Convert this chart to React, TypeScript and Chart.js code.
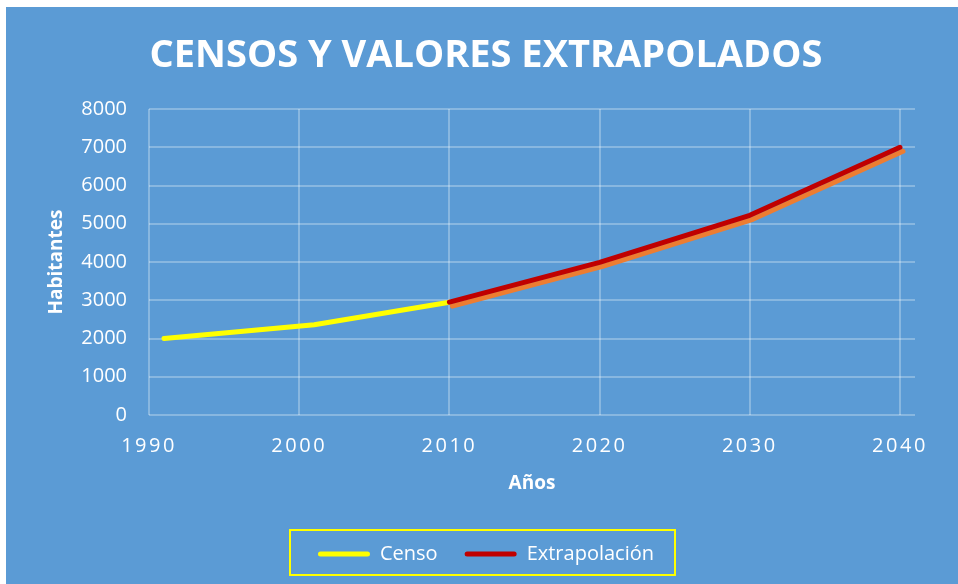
import React, { useEffect, useRef } from 'react';
import { Chart, registerables } from 'chart.js';

Chart.register(...registerables);

const chartTitle = 'CENSOS Y VALORES EXTRAPOLADOS';
const xAxisTitle = 'Años';
const yAxisTitle = 'Habitantes';

const censoLabel = 'Censo';
const censoYears = [1991, 2001, 2010];
const censoValues = [2000, 2360, 2950];

const extrapLabel = 'Extrapolación';
const extrapYears = [2010, 2020, 2030, 2040];
const extrapValues = [2950, 3990, 5220, 7000];

const xMin = 1990;
const xMax = 2041;
const xStep = 10;
const yMin = 0;
const yMax = 8000;
const yStep = 1000;

const BG = '#5B9BD5';
const YELLOW = '#FFFF00';
const RED = '#C00000';
const ORANGE = '#ED7D31';
const GRID = 'rgba(255,255,255,0.28)';
const FONT = '"Open Sans", "DejaVu Sans", sans-serif';

const toPoints = (xs: number[], ys: number[]) => xs.map((x, i) => ({ x, y: ys[i] }));

const shadowPlugin = {
  id: 'lineShadow',
  beforeDatasetDraw(chart: any, args: any) {
    if (args.index === 1) {
      const ctx = chart.ctx;
      ctx.save();
      ctx.shadowColor = ORANGE;
      ctx.shadowOffsetX = 3;
      ctx.shadowOffsetY = 4;
      ctx.shadowBlur = 0;
    }
  },
  afterDatasetDraw(chart: any, args: any) {
    if (args.index === 1) chart.ctx.restore();
  },
};

const spacingPlugin = {
  id: 'tickSpacing',
  beforeDraw(chart: any) {
    const s = chart.scales.x;
    if (s && !s.__patched) {
      const orig = s.drawLabels.bind(s);
      s.drawLabels = (area: any) => {
        const ctx = chart.ctx;
        ctx.save();
        ctx.letterSpacing = '2.5px';
        orig(area);
        ctx.restore();
      };
      s.__patched = true;
    }
  },
};

const legendBoxPlugin = {
  id: 'legendBox',
  afterDraw(chart: any) {
    const lg = chart.legend;
    if (!lg || !lg.legendHitBoxes || !lg.legendHitBoxes.length) return;
    const hb = lg.legendHitBoxes;
    const first = hb[0];
    const last = hb[hb.length - 1];
    const cy = first.top + first.height / 2;
    const left = first.left - 28;
    const right = last.left + last.width + 21;
    const top = cy - 24;
    const bottom = cy + 21;
    const ctx = chart.ctx;
    ctx.save();
    ctx.strokeStyle = YELLOW;
    ctx.lineWidth = 2;
    ctx.strokeRect(left, top, right - left, bottom - top);
    ctx.restore();
  },
};

export default function App() {
  const ref = useRef<HTMLCanvasElement | null>(null);

  useEffect(() => {
    if (!ref.current) return;
    const chart = new Chart(ref.current, {
      type: 'line',
      data: {
        datasets: [
          {
            label: censoLabel,
            data: toPoints(censoYears, censoValues),
            borderColor: YELLOW,
            backgroundColor: YELLOW,
            borderWidth: 5,
            borderCapStyle: 'round',
            borderJoinStyle: 'round',
            pointRadius: 0,
            tension: 0,
            order: 1,
          },
          {
            label: extrapLabel,
            data: toPoints(extrapYears, extrapValues),
            borderColor: RED,
            backgroundColor: RED,
            borderWidth: 5,
            borderCapStyle: 'round',
            borderJoinStyle: 'round',
            pointRadius: 0,
            tension: 0,
            order: 0,
          },
        ],
      },
      options: {
        responsive: false,
        animation: false,
        layout: { padding: { left: 8, right: 0, top: 0, bottom: 10 } },
        plugins: {
          title: {
            display: true,
            text: chartTitle,
            color: '#FFFFFF',
            font: { family: FONT, size: 38, weight: 'bold', lineHeight: 1.2 },
            padding: { top: 26.4, bottom: 30 },
          },
          legend: {
            display: true,
            position: 'bottom',
            labels: {
              color: '#FFFFFF',
              font: { family: FONT, size: 20 },
              boxWidth: 52,
              boxHeight: 5,
              padding: 27,
              useBorderRadius: true,
              borderRadius: 2.5,
              generateLabels: () => [
                { text: censoLabel, fillStyle: YELLOW, strokeStyle: YELLOW, lineWidth: 0, hidden: false, datasetIndex: 0, fontColor: '#FFFFFF', borderRadius: 2.5 },
                { text: extrapLabel, fillStyle: RED, strokeStyle: RED, lineWidth: 0, hidden: false, datasetIndex: 1, fontColor: '#FFFFFF', borderRadius: 2.5 },
              ],
            },
          },
          tooltip: { enabled: false },
        },
        scales: {
          x: {
            type: 'linear',
            min: xMin,
            max: xMax,
            grid: { color: GRID, lineWidth: 2, drawTicks: false },
            border: { display: false },
            ticks: {
              stepSize: xStep,
              includeBounds: false,
              color: '#FFFFFF',
              font: { family: FONT, size: 20 },
              padding: 19,
              maxRotation: 0,
              callback: (v: any) => String(v),
            },
            title: {
              display: true,
              text: xAxisTitle,
              color: '#FFFFFF',
              font: { family: FONT, size: 19, weight: 'bold', lineHeight: 1.2 },
              padding: { top: 0, bottom: 21.6 },
            },
            afterFit: (s: any) => { s.height = 102; },
          },
          y: {
            type: 'linear',
            min: yMin,
            max: yMax,
            grid: { color: GRID, lineWidth: 2, drawTicks: false },
            border: { display: false },
            ticks: {
              stepSize: yStep,
              color: '#FFFFFF',
              font: { family: FONT, size: 20 },
              padding: 22,
              callback: (v: any) => String(v),
            },
            title: {
              display: true,
              text: yAxisTitle,
              color: '#FFFFFF',
              font: { family: FONT, size: 19, weight: 'bold', lineHeight: 1.2 },
              padding: { top: 31.6, bottom: 0 },
            },
            afterFit: (s: any) => { s.width = 135; },
          },
          yRight: {
            type: 'linear',
            position: 'right',
            display: true,
            grid: { display: false, drawTicks: false },
            border: { display: false },
            ticks: { display: false },
            afterFit: (s: any) => { s.width = 43; },
          },
        },
      },
      plugins: [shadowPlugin, spacingPlugin, legendBoxPlugin],
    } as any);
    return () => chart.destroy();
  }, []);

  return (
    <div
      style={{
        position: 'absolute',
        left: 6,
        top: 7,
        width: 952,
        height: 577,
        background: BG,
      }}
    >
      <canvas ref={ref} width={952} height={577} style={{ display: 'block' }} />
    </div>
  );
}
